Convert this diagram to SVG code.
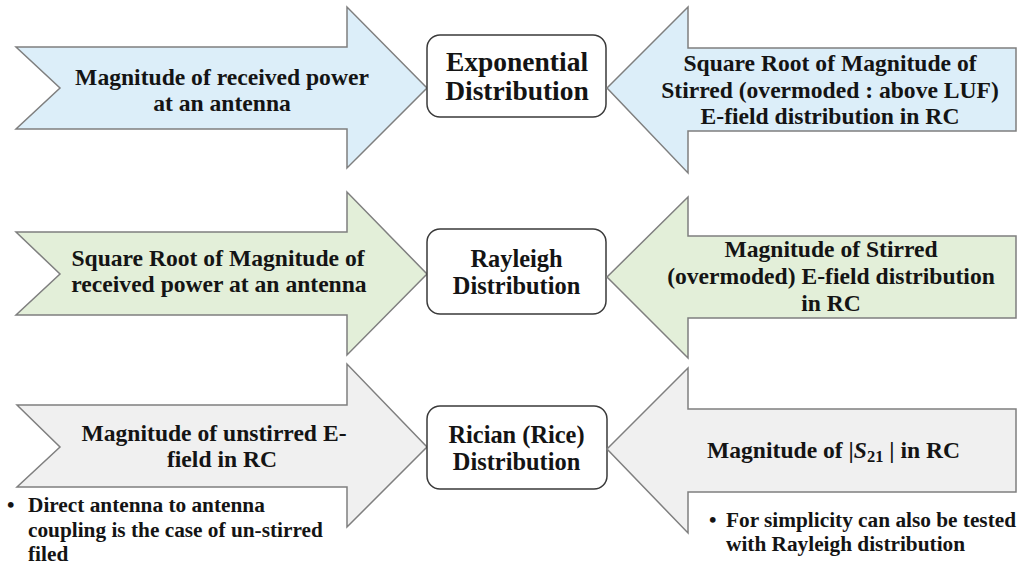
<svg xmlns="http://www.w3.org/2000/svg" width="1021" height="566" viewBox="0 0 1021 566">
<style>
.blue{fill:#dceef9;stroke:#7f7f7f;stroke-width:1.5}
.green{fill:#e3efd9;stroke:#7f7f7f;stroke-width:1.5}
.gray{fill:#f0f0f0;stroke:#7f7f7f;stroke-width:1.5}
.box{fill:#ffffff;stroke:#3a3a3a;stroke-width:1.5}
text{font-family:"Liberation Serif","Times New Roman",serif;font-weight:bold;fill:#141414}
.c{text-anchor:middle}
.a{font-size:23.6px}
.b1{font-size:27.5px}
.b2{font-size:24.4px}
.n{font-size:21.3px}
</style>
<rect width="1021" height="566" fill="#ffffff"/>

<g id="arrow-power">
<polygon class="blue" points="16,47 347,47 347,7 427,88 347,168 347,129 16,129 60,88"/>
<text class="a c" x="222" y="85">Magnitude of received power</text>
<text class="a c" x="222" y="110.5">at an antenna</text>
</g>
<g id="box-exponential">
<rect class="box" x="427" y="35" width="179" height="82" rx="13"/>
<text class="b1 c" x="517" y="71">Exponential</text>
<text class="b1 c" x="517" y="100">Distribution</text>
</g>
<g id="arrow-sqrt-efield">
<polygon class="blue" points="607,88 688,7 688,48 1016,48 1016,131 688,131 688,173"/>
<text class="a c" x="830" y="71">Square Root of Magnitude of</text>
<text class="a c" x="830" y="97.5">Stirred (overmoded : above LUF)</text>
<text class="a c" x="830" y="124">E-field distribution in RC</text>
</g>

<g id="arrow-sqrt-power">
<polygon class="green" points="16,232 347,232 347,192 427,274 347,355 347,315 16,315 60,274"/>
<text class="a c" x="218" y="266">Square Root of Magnitude of</text>
<text class="a c" x="219" y="291.5">received power at an antenna</text>
</g>
<g id="box-rayleigh">
<rect class="box" x="427" y="229" width="179" height="85" rx="13"/>
<text class="b2 c" x="516.5" y="266.5">Rayleigh</text>
<text class="b2 c" x="516.5" y="293.5">Distribution</text>
</g>
<g id="arrow-stirred-efield">
<polygon class="green" points="607,277 688,197 688,236 1016,236 1016,318 688,318 688,358"/>
<text class="a c" x="831" y="257">Magnitude of Stirred</text>
<text class="a c" x="831" y="283.5">(overmoded) E-field distribution</text>
<text class="a c" x="831" y="311">in RC</text>
</g>

<g id="arrow-unstirred">
<polygon class="gray" points="17,405 347,405 347,364 427,447 347,527 347,487 17,487 60,447"/>
<text class="a c" x="214" y="441">Magnitude of unstirred E-</text>
<text class="a c" x="222" y="466.5">field in RC</text>
</g>
<g id="note-direct">
<text class="n" x="7" y="512">•</text>
<text class="n" x="28" y="512">Direct antenna to antenna</text>
<text class="n" x="28" y="537">coupling is the case of un-stirred</text>
<text class="n" x="28" y="561">filed</text>
</g>
<g id="box-rician">
<rect class="box" x="427" y="406" width="180" height="83" rx="13"/>
<text class="b2 c" x="516.5" y="443">Rician (Rice)</text>
<text class="b2 c" x="516.5" y="469.5">Distribution</text>
</g>
<g id="arrow-s21">
<polygon class="gray" points="607,449 688,368 688,409 1016,409 1016,492 688,492 688,533"/>
<text class="a" x="707" y="458">Magnitude of |<tspan font-style="italic">S</tspan><tspan font-size="16.5" dy="4">21</tspan><tspan dy="-4"> | in RC</tspan></text>
</g>
<g id="note-simplicity">
<text class="n" x="709" y="527">•</text>
<text class="n" x="726" y="527">For simplicity can also be tested</text>
<text class="n" x="726" y="551">with Rayleigh distribution</text>
</g>
</svg>
